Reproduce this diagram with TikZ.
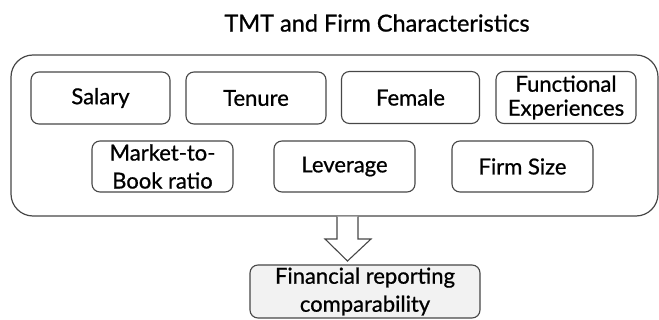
\documentclass[tikz,border=0pt]{standalone}
\usepackage{fontspec}
\setmainfont{Lato}[FakeBold=0.8]
\usetikzlibrary{positioning}

\begin{document}
\begin{tikzpicture}[
    x=1pt, y=1pt,
    factor/.style={rectangle, draw=black!72, line width=1.1pt, rounded corners=8pt,
        minimum height=52pt, inner sep=1pt, align=center,
        font=\fontsize{22}{24}\selectfont},
    panel/.style={rectangle, draw=black!72, line width=1.2pt, rounded corners=22pt},
    outcome/.style={factor, fill=black!5, font=\fontsize{22}{28}\selectfont},
    bigarrow/.style={draw=black!72, line width=1.1pt, fill=white, line join=miter}
]
    \useasboundingbox (0,0) rectangle (659,-320);

    \node[font=\fontsize{23.5}{26}\selectfont] (title) at (377,-23) {TMT and Firm Characteristics};
    \node[panel, minimum width=647pt, minimum height=161pt] (tmt) at (334.5,-135.5) {};

    % TMT characteristics
    \node[factor, minimum width=139pt] (salary) at (100.5,-98) {Salary};
    \node[factor, minimum width=140pt] (tenure) at (256,-98) {Tenure};
    \node[factor, minimum width=138pt] (female) at (410.5,-97.5) {Female};
    \node[factor, minimum width=140pt] (functional) at (566,-97.5) {Functional\\Experiences};

    % firm characteristics
    \node[factor, minimum width=141pt, minimum height=51pt, font=\fontsize{22}{28}\selectfont] (mtb) at (162.5,-166.5) {Market-to-\\Book ratio};
    \node[factor, minimum width=141pt, minimum height=51pt] (leverage) at (344.5,-166.5) {Leverage};
    \node[factor, minimum width=141pt, minimum height=51pt] (firmsize) at (522.5,-166.5) {Firm Size};

    \node[outcome, minimum width=230pt, minimum height=53pt] (frc) at (365,-291.5) {Financial reporting\\comparability};

    \draw[bigarrow] (tmt.south -| 337,0) -- (337,-239) -- (325,-239) -- (347.5,-261)
        -- (371,-239) -- (358,-239) -- (tmt.south -| 358,0);
\end{tikzpicture}
\end{document}
